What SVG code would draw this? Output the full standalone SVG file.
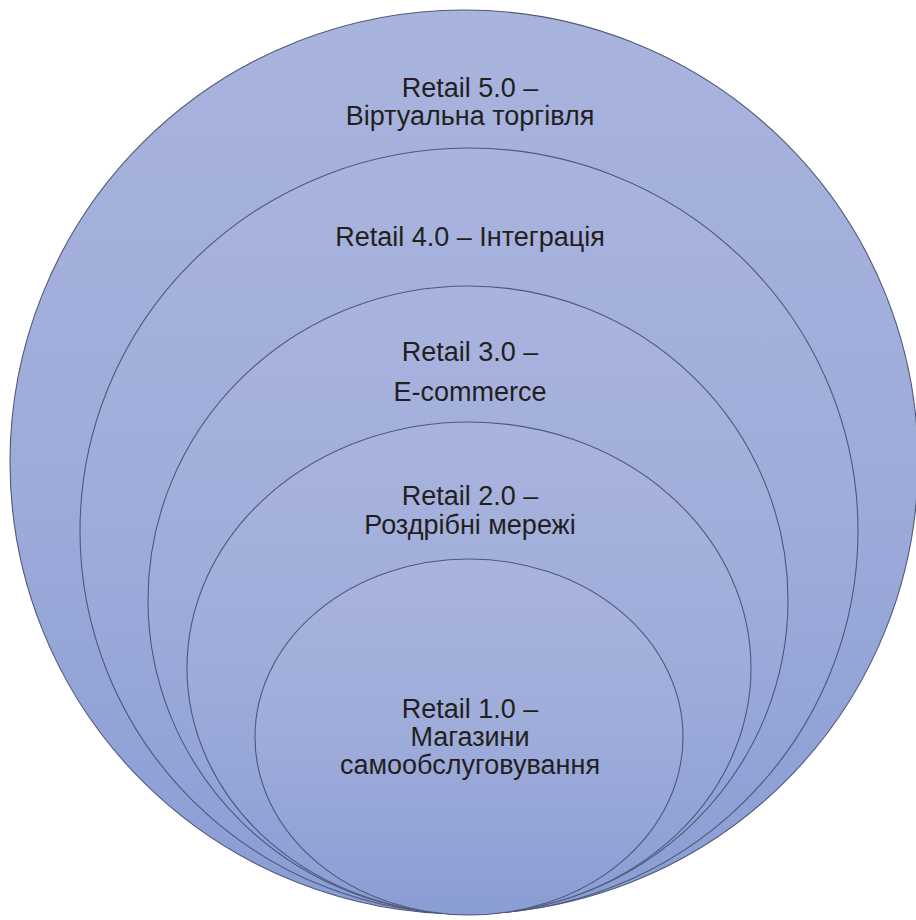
<svg xmlns="http://www.w3.org/2000/svg" width="916" height="920" viewBox="0 0 916 920">
<defs>
<linearGradient id="g" x1="0" y1="0" x2="0" y2="1">
<stop offset="0" stop-color="#a9b4de"/>
<stop offset="0.5" stop-color="#9eacda"/>
<stop offset="1" stop-color="#8a9dd4"/>
</linearGradient>
</defs>
<style>
.c{fill:url(#g);stroke:#4f5878;stroke-width:1.1}
text{font-family:"Liberation Sans",Arial,sans-serif;font-size:27px;fill:#231f20;text-anchor:middle}
</style>
<rect width="916" height="920" fill="#ffffff"/>
<g id="retail5">
<ellipse class="c" cx="464" cy="462" rx="454" ry="452"/>
<text x="470" y="97">Retail 5.0 –</text>
<text x="470" y="125">Віртуальна торгівля</text>
</g>
<g id="retail4">
<ellipse class="c" cx="469" cy="531" rx="389" ry="383"/>
<text x="470" y="246">Retail 4.0 – Інтеграція</text>
</g>
<g id="retail3">
<ellipse class="c" cx="468" cy="600" rx="320" ry="314"/>
<text x="470" y="361">Retail 3.0 –</text>
<text x="470" y="401">E-commerce</text>
</g>
<g id="retail2">
<ellipse class="c" cx="469" cy="668" rx="282" ry="246"/>
<text x="470" y="505">Retail 2.0 –</text>
<text x="470" y="534">Роздрібні мережі</text>
</g>
<g id="retail1">
<ellipse class="c" cx="469" cy="737" rx="214" ry="178"/>
<text x="470" y="718">Retail 1.0 –</text>
<text x="470" y="746">Магазини</text>
<text x="470" y="774">самообслуговування</text>
</g>
<g id="connectors"/>
</svg>
